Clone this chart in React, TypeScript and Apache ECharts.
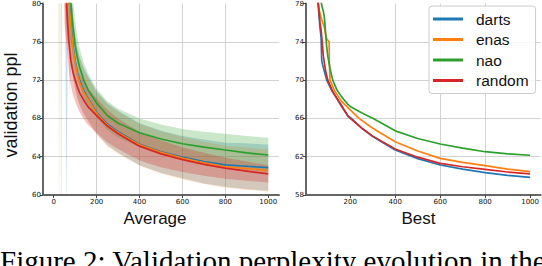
import React, { useEffect, useRef } from 'react';
import * as echarts from 'echarts';

const NAMES = ['darts', 'enas', 'nao', 'random'];
const COLORS = ['#1f77b4', '#ff7f0e', '#2ca02c', '#d62728'];
const BAND_COLORS = ['rgba(31,119,180,0.25)', 'rgba(255,127,14,0.22)', 'rgba(44,160,44,0.25)', 'rgba(214,39,40,0.28)'];

// ---- "Average" panel: mean and std per method, sampled at AVG_X ----
const AVG_X = [20, 25, 30, 35, 40, 50, 60, 65, 70, 75, 80, 90, 100, 110, 120, 140, 160, 200, 250, 300, 400, 500, 600, 700, 800, 900, 1000];
const AVG_DARTS_MEAN = [200, 200, 200, 200, 200, 120, 86, 82, 80.8, 79.5, 78, 75.5, 74, 72.8, 72, 70.9, 70.1, 68.6, 67.4, 66.6, 65.3, 64.5, 63.95, 63.5, 63.15, 63, 62.85];
const AVG_DARTS_STD = [100, 100, 100, 100, 100, 30, 28, 6, 4, 9, 4.5, 3.2, 2.8, 2.6, 2.5, 2.4, 2.3, 2.2, 2.2, 2.2, 2.2, 2.2, 2.2, 2.3, 2.3, 2.4, 2.4];
const AVG_ENAS_MEAN = [200, 150, 200, 150, 130, 100, 84, 82, 80.5, 79, 77.6, 75.2, 73.8, 72.6, 71.8, 70.7, 70, 68.5, 67.3, 66.5, 65.25, 64.45, 63.85, 63.35, 62.95, 62.75, 62.55];
const AVG_ENAS_STD = [100, 100, 100, 50, 40, 20, 8, 6, 5, 4, 3.5, 3, 2.8, 2.6, 2.5, 2.4, 2.3, 2.2, 2.2, 2.2, 2.2, 2.2, 2.2, 2.2, 2.2, 2.2, 2.2];
const AVG_NAO_MEAN = [200, 200, 180, 150, 200, 110, 88, 85, 83, 81.5, 80, 77.5, 75.6, 74.4, 73.4, 72, 71, 69.6, 68.3, 67.5, 66.5, 65.85, 65.35, 65, 64.7, 64.4, 64.18];
const AVG_NAO_STD = [100, 100, 80, 100, 100, 25, 10, 8, 6, 5, 4, 3, 2.5, 2.2, 2, 1.8, 1.7, 1.5, 1.5, 1.5, 1.5, 1.5, 1.55, 1.6, 1.7, 1.75, 1.8];
const AVG_RANDOM_MEAN = [200, 200, 200, 200, 150, 88, 79.8, 77.8, 76.2, 75, 74, 72.8, 72, 71.3, 70.7, 69.9, 69.2, 68.3, 67.2, 66.4, 65.1, 64.3, 63.7, 63.2, 62.8, 62.5, 62.2];
const AVG_RANDOM_STD = [50, 50, 50, 50, 50, 10, 4, 3.5, 3, 2.8, 2.6, 2.4, 2.2, 2.1, 2, 2, 1.9, 1.8, 1.7, 1.6, 1.5, 1.4, 1.3, 1.2, 1.1, 1.0, 0.9];

// ---- "Best" panel ----
const BEST_DARTS_X = [50, 55, 60, 65, 70, 73, 80, 95, 120, 140, 160, 191, 200, 250, 300, 400, 500, 600, 700, 800, 900, 1000];
const BEST_DARTS_Y = [80, 78.5, 77, 75.5, 74.5, 72, 71.3, 70, 68.8, 68.1, 67.3, 66.2, 66.1, 65.0, 64.1, 62.7, 61.8, 61.13, 60.7, 60.33, 60.05, 59.85];
const BEST_ENAS_X = [50, 60, 70, 75, 85, 90, 95, 106, 107, 110, 130, 160, 200, 239, 300, 400, 500, 600, 700, 800, 900, 1000];
const BEST_ENAS_Y = [80, 77.5, 76.5, 76.2, 75.5, 74.8, 74.3, 74.0, 71.8, 70.0, 68.9, 67.8, 66.88, 66.0, 64.97, 63.57, 62.6, 61.83, 61.4, 61.06, 60.7, 60.44];
const BEST_NAO_X = [55, 65, 75, 80, 85, 90, 95, 100, 110, 122, 140, 160, 188, 200, 250, 302, 400, 500, 600, 700, 800, 900, 1000];
const BEST_NAO_Y = [80, 78.8, 77.6, 77.2, 76.5, 75, 73.5, 72.5, 71.2, 70.0, 69.0, 68.3, 67.5, 67.25, 66.6, 66.0, 64.7, 63.9, 63.33, 62.9, 62.52, 62.3, 62.15];
const BEST_RANDOM_X = [50, 55, 60, 65, 70, 75, 80, 90, 100, 120, 140, 160, 191, 200, 250, 300, 400, 500, 600, 700, 800, 900, 1000];
const BEST_RANDOM_Y = [80, 78.5, 77.5, 76, 75.3, 74, 72.5, 71, 70, 68.9, 68.1, 67.4, 66.2, 66.0, 65.0, 64.15, 62.8, 61.95, 61.3, 60.95, 60.68, 60.4, 60.2];

const AVG_X_TICKS = [0, 200, 400, 600, 800, 1000];
const BEST_X_TICKS = [200, 400, 600, 800, 1000];
const AVG_Y_TICKS = [60, 64, 68, 72, 76, 80];
const BEST_Y_TICKS = [58, 62, 66, 70, 74, 78];

const AVG_MEANS = [AVG_DARTS_MEAN, AVG_ENAS_MEAN, AVG_NAO_MEAN, AVG_RANDOM_MEAN];
const AVG_STDS = [AVG_DARTS_STD, AVG_ENAS_STD, AVG_NAO_STD, AVG_RANDOM_STD];
const BEST_XS = [BEST_DARTS_X, BEST_ENAS_X, BEST_NAO_X, BEST_RANDOM_X];
const BEST_YS = [BEST_DARTS_Y, BEST_ENAS_Y, BEST_NAO_Y, BEST_RANDOM_Y];

const TICK_FONT = { fontSize: 7, color: '#111', fontFamily: 'DejaVu Sans', formatter: (v: number) => String(v) };
const AXIS_LINE = { lineStyle: { color: '#666', width: 2 } };
const SPLIT = { show: true, showMinLine: false, showMaxLine: false, lineStyle: { color: '#d2d2d2', width: 1 } };

function xAxis(gridIndex: number, min: number, max: number, ticks: number[]) {
  return {
    type: 'value', gridIndex, min, max,
    axisLine: { show: true, onZero: false, ...AXIS_LINE },
    axisTick: { show: true, length: 3, customValues: ticks, lineStyle: { color: '#444', width: 1 } },
    axisLabel: { ...TICK_FONT, margin: 3, customValues: ticks, showMinLabel: true, showMaxLabel: true },
    splitLine: SPLIT,
  };
}
function yAxis(gridIndex: number, min: number, max: number, ticks: number[]) {
  return {
    type: 'value', gridIndex, min, max,
    axisLine: { show: true, onZero: false, ...AXIS_LINE },
    axisTick: { show: true, length: 3, customValues: ticks, lineStyle: { color: '#444', width: 1 } },
    axisLabel: { ...TICK_FONT, margin: 2, customValues: ticks },
    splitLine: SPLIT,
  };
}

export default function App() {
  const ref = useRef<HTMLDivElement>(null);
  useEffect(() => {
    if (!ref.current) return;
    const chart = echarts.init(ref.current, null, { renderer: 'svg' });
    const series: any[] = [];
    NAMES.forEach((name, i) => {
      const mean = AVG_MEANS[i];
      const std = AVG_STDS[i];
      const lower = AVG_X.map((_, k) => mean[k] - std[k]);
      const upper = AVG_X.map((_, k) => mean[k] + std[k]);
      series.push({
        name: name + ' band', type: 'custom', xAxisIndex: 0, yAxisIndex: 0, silent: true, z: 1, clip: true,
        data: AVG_X.map((x, k) => [x, lower[k], upper[k]]),
        encode: { x: 0, y: [1, 2] },
        renderItem: (params: any, api: any) => {
          if (params.dataIndex !== 0) return null;
          const pts: number[][] = [];
          for (let k = 0; k < AVG_X.length; k++) pts.push(api.coord([AVG_X[k], upper[k]]));
          for (let k = AVG_X.length - 1; k >= 0; k--) pts.push(api.coord([AVG_X[k], lower[k]]));
          const cs = params.coordSys;
          return {
            type: 'polygon',
            shape: { points: pts },
            style: { fill: BAND_COLORS[i], stroke: 'none' },
            clipPath: { type: 'rect', shape: { x: cs.x, y: cs.y, width: cs.width, height: cs.height } },
          };
        },
      });
    });
    NAMES.forEach((name, i) => {
      series.push({
        name, type: 'line', xAxisIndex: 0, yAxisIndex: 0,
        data: AVG_X.map((x, k) => [x, AVG_MEANS[i][k]]),
        symbol: 'none', lineStyle: { color: COLORS[i], width: 1.7 }, itemStyle: { color: COLORS[i] }, z: 3,
      });
    });
    NAMES.forEach((name, i) => {
      series.push({
        name, type: 'line', xAxisIndex: 1, yAxisIndex: 1,
        data: BEST_XS[i].map((x, k) => [x, BEST_YS[i][k]]),
        symbol: 'none', lineStyle: { color: COLORS[i], width: 1.7 }, itemStyle: { color: COLORS[i] }, z: 3,
      });
    });
    chart.setOption({
      animation: false,
      grid: [
        { left: 43, top: 3.5, width: 236, height: 191.5 },
        { left: 306, top: 3.5, width: 235, height: 191.5 },
      ],
      xAxis: [xAxis(0, -50, 1050, AVG_X_TICKS), xAxis(1, 3, 1047, BEST_X_TICKS)],
      yAxis: [yAxis(0, 60, 80, AVG_Y_TICKS), yAxis(1, 58, 78, BEST_Y_TICKS)],
      legend: {
        data: NAMES, orient: 'vertical', left: 429, top: 6, icon: 'rect', itemWidth: 30, itemHeight: 3, itemGap: 4.5,
        padding: [5, 7, 5, 4], borderColor: '#cccccc', borderWidth: 1, borderRadius: 3, backgroundColor: 'rgba(255,255,255,0.85)',
        selectedMode: false,
        textStyle: { fontSize: 15.5, fontFamily: 'Liberation Sans', color: '#111', padding: [0, 0, 0, 8] },
      },
      graphic: [
        { type: 'text', x: 155, y: 218, style: { text: 'Average', font: '17px "Liberation Sans"', fill: '#111', align: 'center', verticalAlign: 'middle' } },
        { type: 'text', x: 418.5, y: 218, style: { text: 'Best', font: '17px "Liberation Sans"', fill: '#111', align: 'center', verticalAlign: 'middle' } },
        { type: 'text', x: 10.7, y: 105, rotation: Math.PI / 2, style: { text: 'validation ppl', font: '18px "Liberation Sans"', fill: '#111', align: 'center', verticalAlign: 'middle' } },
        { type: 'text', x: 0, y: 261, style: { text: 'Figure 2: Validation perplexity evolution in the', font: '29px "Liberation Serif"', fill: '#000', align: 'left', verticalAlign: 'middle' } },
      ],
      series,
    });
    return () => chart.dispose();
  }, []);
  return <div ref={ref} style={{ position: 'fixed', left: 0, top: 0, width: 542, height: 266, background: '#fff' }} />;
}
